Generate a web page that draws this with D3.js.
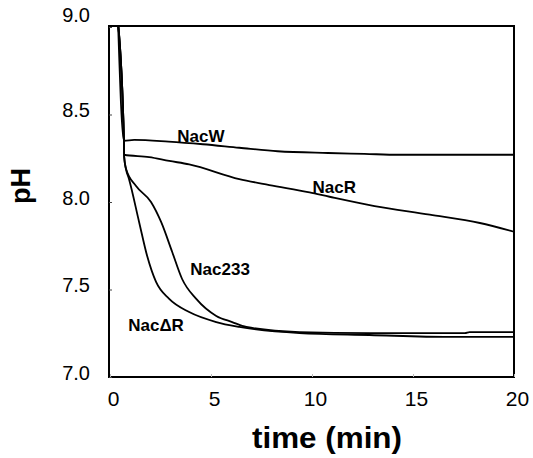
<!DOCTYPE html>
<html><head><meta charset="utf-8">
<script src="https://cdn.jsdelivr.net/npm/d3@7"></script>
<style>body{margin:0;background:#fff}</style>
</head><body>
<svg id="c" width="533" height="458"></svg>
<script>
const xTicks = [0, 5, 10, 15, 20];
const yTicks = [7.0, 7.5, 8.0, 8.5, 9.0];
const nacW_t  = [0.40, 0.69, 1.2, 2.9, 4.6, 6.4, 8.3, 10.8, 12.6, 14.3, 17, 20];
const nacW_pH = [9.02, 8.35, 8.355, 8.345, 8.33, 8.31, 8.29, 8.28, 8.275, 8.27, 8.27, 8.27];
const nacR_t  = [0.40, 0.69, 0.70, 1.94, 2.93, 3.92, 6.40, 7.89, 9.88, 10.87, 13.1, 15.83, 18.31, 20];
const nacR_pH = [9.02, 8.35, 8.27, 8.257, 8.235, 8.215, 8.131, 8.097, 8.055, 8.03, 7.977, 7.928, 7.88, 7.83];
const nac233_t  = [0.40, 0.69, 0.70, 0.79, 1.29, 2.03, 2.53, 3.08, 3.57, 4.27, 5.26, 6.05, 6.75, 9.38, 12.85, 17.57, 17.8, 20];
const nac233_pH = [9.02, 8.35, 8.26, 8.19, 8.091, 8.0, 7.886, 7.714, 7.56, 7.446, 7.349, 7.314, 7.286, 7.257, 7.251, 7.251, 7.257, 7.257];
const nacDR_t  = [0.40, 0.69, 0.70, 0.79, 0.94, 1.44, 1.84, 2.28, 2.93, 3.92, 5.26, 6.40, 9.38, 12.85, 16.8, 20];
const nacDR_pH = [9.02, 8.35, 8.26, 8.19, 8.131, 7.886, 7.691, 7.543, 7.446, 7.371, 7.314, 7.286, 7.251, 7.24, 7.229, 7.229];
const seriesNames = ["NacW", "NacR", "Nac233", "NacΔR"];
const labelPos = [[4.5, 8.345], [11.1, 8.05], [5.45, 7.585], [2.28, 7.262]];

const svg = d3.select("#c");
const x = d3.scaleLinear().domain([0, 20]).range([110, 514]);
const y = d3.scaleLinear().domain([7, 9]).range([377, 27]);
const font = "'Liberation Sans', Arial, Helvetica, sans-serif";

svg.append("defs").append("clipPath").attr("id", "clip")
  .append("rect").attr("x", 109).attr("y", 26).attr("width", 406).attr("height", 352);

const series = [
  {t: nacW_t, p: nacW_pH},
  {t: nacR_t, p: nacR_pH},
  {t: nac233_t, p: nac233_pH},
  {t: nacDR_t, p: nacDR_pH}
];
const line = d3.line().x(d => x(d[0])).y(d => y(d[1])).curve(d3.curveMonotoneX);
const g = svg.append("g").attr("clip-path", "url(#clip)");
series.forEach(s => {
  g.append("path").attr("d", line(s.t.map((t, i) => [t, s.p[i]])))
    .attr("fill", "none").attr("stroke", "#000").attr("stroke-width", 1.8);
});

// frame
svg.append("rect").attr("x", 109).attr("y", 26).attr("width", 405).attr("height", 351)
  .attr("fill", "none").attr("stroke", "#000").attr("stroke-width", 2);

// y axis
const ya = svg.append("g").attr("transform", "translate(109,0)")
  .call(d3.axisLeft(y).tickValues(yTicks).tickFormat(d3.format(".1f")).tickSize(-3).tickPadding(19));
ya.select(".domain").remove();
ya.selectAll("line").attr("stroke", "#444");
ya.selectAll("text").attr("font-family", font).attr("font-size", 20).attr("fill", "#000").attr("dy", "0.1em");
ya.selectAll(".tick").filter(d => d === 9).select("text").attr("dy", "-0.3em");

// x axis
const xa = svg.append("g").attr("transform", "translate(0,377)")
  .call(d3.axisBottom(x).tickValues(xTicks).tickFormat(d3.format("d")).tickSize(-3).tickPadding(14));
xa.select(".domain").remove();
xa.selectAll("line").attr("stroke", "#bbb");
xa.selectAll("text").attr("font-family", font).attr("font-size", 21).attr("fill", "#000")
  .attr("transform", "translate(3,0)");

// axis titles
svg.append("text").attr("x", 327).attr("y", 448).attr("text-anchor", "middle")
  .attr("font-family", font).attr("font-size", 30).attr("font-weight", "bold")
  .attr("textLength", 150).attr("lengthAdjust", "spacingAndGlyphs").text("time (min)");
svg.append("text").attr("transform", "translate(30,186) rotate(-90)").attr("text-anchor", "middle")
  .attr("font-family", font).attr("font-size", 27).attr("font-weight", "bold").text("pH");

// series labels
seriesNames.forEach((n, i) => {
  svg.append("text").attr("x", x(labelPos[i][0])).attr("y", y(labelPos[i][1])).attr("text-anchor", "middle")
    .attr("font-family", font).attr("font-size", 17).attr("font-weight", "bold").text(n);
});
</script>
</body></html>
